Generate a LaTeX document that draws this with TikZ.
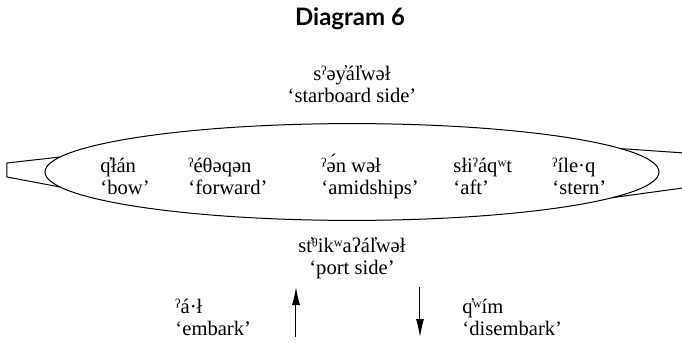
\documentclass[tikz,border=0pt]{standalone}
\usepackage{fontspec}
\setmainfont{Liberation Serif}
\newfontfamily\headfont{Lato}
\usetikzlibrary{
  arrows.meta,
  positioning,
}
\tikzset{
  >={Latex[length=9pt,width=4pt]},
}

\begin{document}
\begin{tikzpicture}[
      line width=0.5pt,
      heading/.style={anchor=base, inner sep=0pt, font=\headfont\bfseries\fontsize{12}{14}\selectfont},
      gloss/.style={anchor=base west, align=left, inner sep=0pt, font=\fontsize{10.3}{11}\selectfont},
      side/.style={gloss, anchor=base, align=center},
    ]
      \useasboundingbox (-176pt,-85.5pt) rectangle (165pt,86pt);
      % canoe: hull outline and the ellipse inside it
      \draw (0,0) ellipse [x radius=153.5pt, y radius=24.2pt];
      \draw (-146pt,7.5pt) -- (-172.5pt,4.5pt) -- (-172.5pt,-2.5pt) -- (-146pt,-7.5pt);
      \draw (134.3pt,11.7pt) -- (175pt,8.9pt);
      \draw (130.2pt,-12.8pt) -- (175pt,-6.7pt);
      \node [heading] (title) at (-1pt,73.5pt) {Diagram 6};
      \node [side] (starboard) at (0pt,34.5pt) {sˀəy̓ál̓wəł\\‘starboard side’};
      \node [gloss] (bow) at (-126pt,-11pt) {q̓łán\\‘bow’};
      \node [gloss] (forward) at (-82pt,-11pt) {ˀéθəqən\\‘forward’};
      \node [gloss] (amidships) at (-15.5pt,-11pt) {ˀə́n wəł\\‘amidships’};
      \node [gloss] (aft) at (50.5pt,-11pt) {słiˀáqʷt\\‘aft’};
      \node [gloss] (stern) at (100pt,-11pt) {ˀíle·q\\‘stern’};
      \node [side] (port) at (0pt,-51pt) {st̓ᶿikʷaʔál̓wəł\\‘port side’};
      \node [gloss] (embark) at (-88.5pt,-81.5pt) {ˀá·ł\\‘embark’};
      \node [gloss] (disembark) at (55pt,-81.5pt) {q̓ʷím\\‘disembark’};
      \coordinate (in tail) at (-28pt,-82.5pt);
      \coordinate (in head) at (-28pt,-57.5pt);
      \coordinate (out tail) at (34pt,-57.5pt);
      \coordinate (out head) at (34pt,-82.5pt);
      \path [->] (in tail) edge (in head)
                 (out tail) edge (out head);
    \end{tikzpicture}
\end{document}
